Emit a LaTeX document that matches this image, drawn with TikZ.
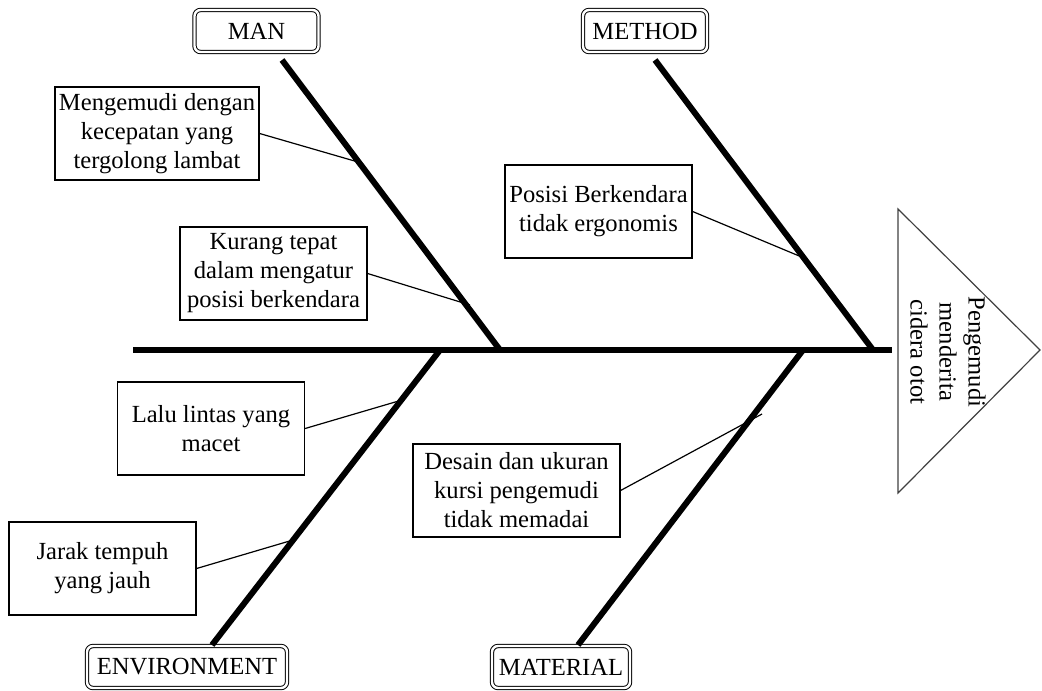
\documentclass[tikz,border=0pt]{standalone}
\usepackage{fontspec}
\setmainfont{Liberation Serif}
\begin{document}
\begin{tikzpicture}[x=0.5pt, y=-0.5pt, every node/.style={font=\fontsize{12.3}{14.5}\selectfont},
  cause/.style={draw, line width=0.6pt, align=center, minimum width=93.5pt, minimum height=46.5pt, inner sep=2pt},
  catbox/.style={draw, double, double distance=1.2pt, line width=0.5pt, rounded corners=3pt, minimum width=62pt, minimum height=21pt, inner xsep=3pt},
  bone/.style={line width=3pt},
  twig/.style={line width=0.6pt}]
  \useasboundingbox (0,0) rectangle (1042,690);
  % Spine and head
  \coordinate (tail) at (133,350);
  \coordinate (neck) at (892,350);
  \draw[bone] (tail) -- (neck);
  \coordinate (h1) at (898,209);
  \coordinate (h2) at (1040,350);
  \coordinate (h3) at (898,493);
  \draw[line width=0.6pt, black!75] (h1) -- (h2) -- (h3) -- cycle;
  \node[rotate=-90, align=center] (effect) at (948,352) {Pengemudi\\menderita\\cidera otot};
  % Categories
  \node[catbox] (man) at (256.5,31) {MAN};
  \node[catbox] (method) at (645,31) {METHOD};
  \node[catbox, minimum width=100pt] (env) at (187,667) {ENVIRONMENT};
  \node[catbox, minimum width=69pt] (mat) at (561,667) {MATERIAL};
  % Bones
  \coordinate (manTop) at (282,60);
  \coordinate (manEnd) at (500,350);
  \coordinate (methTop) at (655,60);
  \coordinate (methEnd) at (873,350);
  \coordinate (envEnd) at (440,350);
  \coordinate (envBot) at (212,645);
  \coordinate (matEnd) at (803,350);
  \coordinate (matBot) at (578,645);
  \draw[bone] (manTop) -- (manEnd);
  \draw[bone] (methTop) -- (methEnd);
  \draw[bone] (envEnd) -- (envBot);
  \draw[bone] (matEnd) -- (matBot);
  % Causes
  \node[cause, minimum width=101pt] (c1) at (157,133.5) {Mengemudi dengan\\kecepatan yang\\tergolong lambat};
  \node[cause] (c2) at (273.5,273.5) {Kurang tepat\\dalam mengatur\\posisi berkendara};
  \node[cause] (c3) at (598.5,211.5) {Posisi Berkendara\\tidak ergonomis};
  \node[cause] (c4) at (211,428.5) {Lalu lintas yang\\macet};
  \node[cause] (c5) at (102.5,568.5) {Jarak tempuh\\yang jauh};
  \node[cause, minimum width=103.5pt] (c6) at (516.5,490.5) {Desain dan ukuran\\kursi pengemudi\\tidak memadai};
  \coordinate (t1) at (358,162);
  \coordinate (t2) at (470,305);
  \coordinate (t3) at (804,258);
  \coordinate (t4) at (402,400);
  \coordinate (t5) at (293,540);
  \coordinate (t6) at (762,414);
  \draw[twig] (c1.east) -- (t1);
  \draw[twig] (c2.east) -- (t2);
  \draw[twig] (c3.east) -- (t3);
  \draw[twig] (c4.east) -- (t4);
  \draw[twig] (c5.east) -- (t5);
  \draw[twig] (c6.east) -- (t6);
\end{tikzpicture}
\end{document}
